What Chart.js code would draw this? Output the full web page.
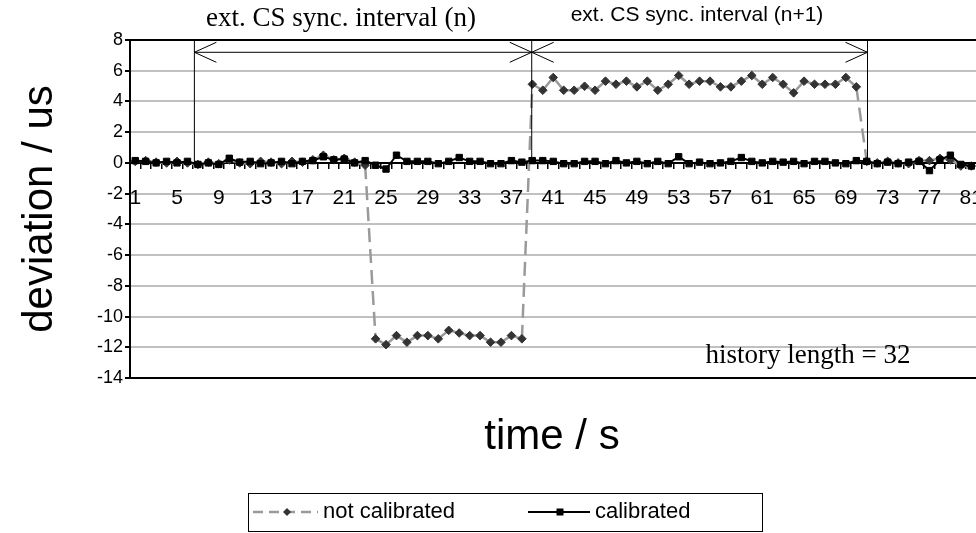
<!DOCTYPE html>
<html>
<head>
<meta charset="utf-8">
<script src="https://cdn.jsdelivr.net/npm/chart.js@4.4.0/dist/chart.umd.min.js"></script>
<style>
  html, body { margin: 0; padding: 0; background: #fff; overflow: hidden; }
  #wrap { width: 976px; height: 533px; overflow: hidden; }
</style>
</head>
<body>
<div id="wrap"><canvas id="chart" width="982" height="533"></canvas></div>
<script>
// time axis: seconds 1..81, only every 4th one gets a label
const timeLabels = Array.from({length: 81}, (_, i) => String(i + 1));
const yTicks = [-14, -12, -10, -8, -6, -4, -2, 0, 2, 4, 6, 8];

const notCalibrated = [
  0.1, 0.15, 0.05, 0.0, 0.1, 0.0, -0.1, 0.05, -0.05, 0.2,
  0.0, -0.05, 0.1, 0.05, -0.05, 0.1, 0.05, 0.2, 0.5, 0.2,
  0.3, 0.05, -0.15,
  -11.45, -11.83, -11.24, -11.67, -11.24, -11.24, -11.45, -10.9, -11.07, -11.24,
  -11.24, -11.67, -11.67, -11.24, -11.45,
  5.12, 4.73, 5.56, 4.73, 4.73, 4.99, 4.73, 5.32, 5.12, 5.32,
  4.95, 5.32, 4.73, 5.12, 5.69, 5.12, 5.32, 5.32, 4.95, 4.95,
  5.32, 5.69, 5.12, 5.56, 5.12, 4.56, 5.32, 5.12, 5.12, 5.12,
  5.56, 4.95,
  0.1, 0.0, 0.1, 0.0, -0.05, 0.15, 0.15, 0.3, 0.2, -0.2, -0.2
];

const calibrated = [
  0.15, 0.1, 0.0, 0.1, 0.0, 0.1, -0.1, 0.0, -0.1, 0.3,
  0.05, 0.1, -0.05, 0.0, 0.1, -0.05, 0.1, 0.15, 0.4, 0.2,
  0.25, 0.0, 0.15, -0.15, -0.4, 0.5, 0.1, 0.1, 0.1, -0.05,
  0.1, 0.35, 0.1, 0.1, -0.05, -0.05, 0.15, 0.05, 0.15, 0.15,
  0.1, -0.05, -0.05, 0.1, 0.1, -0.05, 0.15, 0.0, 0.1, -0.05,
  0.1, -0.05, 0.4, -0.05, 0.05, -0.05, 0.0, 0.1, 0.35, 0.1,
  0.0, 0.1, 0.05, 0.1, -0.05, 0.1, 0.1, 0.0, -0.05, 0.15,
  0.1, -0.05, 0.05, -0.05, 0.05, 0.1, -0.5, 0.2, 0.5, -0.1, -0.2
];

// sync interval boundaries (in seconds on the category axis) and arrow height
const intervalBounds = [6.66, 38.94, 71.07];
const arrowLevel = 7.2;

const SANS = 'Arial, "Liberation Sans", sans-serif';
const SERIF = '"Times New Roman", "Liberation Serif", serif';

const extras = {
  id: 'extras',
  afterDatasetsDraw(chart) {
    const {ctx, scales: {x, y}} = chart;
    const top = y.getPixelForValue(8);
    const zero = y.getPixelForValue(0);
    const ay = y.getPixelForValue(arrowLevel);
    const xs = intervalBounds.map(b => x.getPixelForValue(b - 1));
    ctx.save();
    ctx.strokeStyle = '#000';
    ctx.lineWidth = 1;
    ctx.beginPath();
    xs.forEach(px => { ctx.moveTo(px, top); ctx.lineTo(px, zero); });
    for (let k = 0; k < xs.length - 1; k++) {
      const a = xs[k], b = xs[k + 1];
      ctx.moveTo(a, ay); ctx.lineTo(b, ay);
      ctx.moveTo(a + 22, ay - 10); ctx.lineTo(a, ay); ctx.lineTo(a + 22, ay + 10);
      ctx.moveTo(b - 22, ay - 10); ctx.lineTo(b, ay); ctx.lineTo(b - 22, ay + 10);
    }
    ctx.stroke();
    ctx.restore();
  },
  afterDraw(chart) {
    const {ctx, chartArea} = chart;
    ctx.save();
    ctx.fillStyle = '#000';
    ctx.textAlign = 'center';
    ctx.textBaseline = 'middle';

    ctx.font = '27px ' + SERIF;
    ctx.fillText('ext. CS sync. interval (n)', 341, 19);
    ctx.font = '21px ' + SANS;
    ctx.fillText('ext. CS sync. interval (n+1)', 697, 15);
    ctx.font = '27px ' + SERIF;
    ctx.fillText('history length = 32', 808, 356);

    // axis titles
    ctx.font = '42px ' + SANS;
    ctx.fillText('time / s', 552, 437);
    ctx.save();
    ctx.translate(40, (chartArea.top + chartArea.bottom) / 2);
    ctx.rotate(-Math.PI / 2);
    ctx.fillText('deviation / us', 0, 0);
    ctx.restore();

    // legend
    const ly = 512;
    ctx.strokeStyle = '#000';
    ctx.lineWidth = 1;
    ctx.strokeRect(248.5, 493.5, 514, 38);

    ctx.strokeStyle = '#9a9a9a';
    ctx.lineWidth = 2.5;
    ctx.setLineDash([10, 6]);
    ctx.beginPath(); ctx.moveTo(253, ly); ctx.lineTo(318, ly); ctx.stroke();
    ctx.setLineDash([]);
    ctx.fillStyle = '#333';
    ctx.beginPath();
    ctx.moveTo(287, ly - 4); ctx.lineTo(291, ly); ctx.lineTo(287, ly + 4); ctx.lineTo(283, ly);
    ctx.closePath(); ctx.fill();

    ctx.strokeStyle = '#000';
    ctx.lineWidth = 2;
    ctx.beginPath(); ctx.moveTo(528, ly); ctx.lineTo(590, ly); ctx.stroke();
    ctx.fillStyle = '#000';
    ctx.fillRect(556.5, ly - 3.5, 7, 7);

    ctx.font = '22px ' + SANS;
    ctx.textAlign = 'left';
    ctx.fillText('not calibrated', 323, ly);
    ctx.fillText('calibrated', 595, ly);
    ctx.restore();
  }
};

const ctx = document.getElementById('chart').getContext('2d');
new Chart(ctx, {
  type: 'line',
  data: {
    labels: timeLabels,
    datasets: [{
      label: 'not calibrated',
      data: notCalibrated,
      borderColor: '#9a9a9a',
      borderWidth: 2.5,
      pointStyle: 'rectRot',
      pointRadius: 4.3,
      pointBackgroundColor: '#333',
      pointBorderColor: '#333',
      pointBorderWidth: 1,
      tension: 0,
      order: 2,
      segment: {
        // long jumps show the dash pattern, short steps look solid
        borderDash: c => Math.abs(c.p1.y - c.p0.y) > 30 ? [14, 7] : undefined
      }
    }, {
      label: 'calibrated',
      data: calibrated,
      borderColor: '#000',
      borderWidth: 2,
      pointStyle: 'rect',
      pointRadius: 4.5,
      pointBackgroundColor: '#000',
      pointBorderColor: '#000',
      pointBorderWidth: 1,
      tension: 0,
      order: 1
    }]
  },
  options: {
    responsive: false,
    animation: false,
    layout: { padding: { top: 40, bottom: 155, left: 0, right: 0 } },
    plugins: { legend: { display: false }, tooltip: { enabled: false } },
    scales: {
      x: {
        type: 'category',
        position: { y: 0 },
        offset: true,
        ticks: {
          autoSkip: false,
          maxRotation: 0,
          color: '#000',
          padding: 18,
          font: { family: SANS, size: 21 },
          callback: (v, i) => (i % 4 === 0 ? timeLabels[i] : '')
        },
        grid: { offset: true, drawOnChartArea: false, drawTicks: true, tickLength: 5, color: '#000', lineWidth: 1.5 },
        border: { color: '#000', width: 2 },
        afterFit: s => { s.paddingLeft = 0; s.paddingRight = 0; }
      },
      y: {
        min: -14,
        max: 8,
        afterBuildTicks: s => { s.ticks = yTicks.map(v => ({ value: v })); },
        ticks: { color: '#000', padding: 2, font: { family: SANS, size: 18 } },
        grid: {
          color: c => (c.tick && (c.tick.value === 8 || c.tick.value === -14)) ? '#000' : '#c0c0c0',
          lineWidth: 2,
          tickColor: '#000',
          tickLength: 5
        },
        border: { color: '#000', width: 2 },
        afterFit: s => { s.width = 130; }
      }
    }
  },
  plugins: [extras]
});
</script>
</body>
</html>
